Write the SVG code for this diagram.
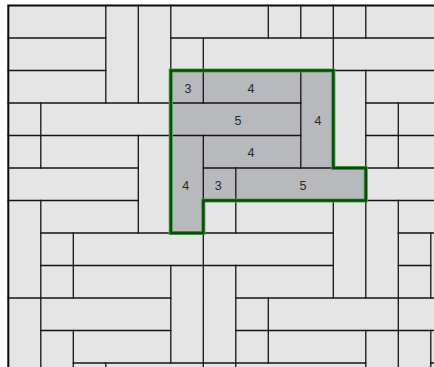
<svg xmlns="http://www.w3.org/2000/svg" width="434" height="367" viewBox="0 0 434 367">
<style>
.grid{fill:none;stroke:#141414;stroke-width:1.3;stroke-linecap:square}
.border{fill:none;stroke:#0a0a0a;stroke-width:2}
.lbl{font-family:"Liberation Sans",Arial,sans-serif;font-size:12.5px;fill:#2a2a2a;text-anchor:middle}
</style>
<rect x="0" y="0" width="434" height="367" fill="#ffffff"/>
<rect id="field" x="8.3" y="5.5" width="430" height="370" fill="#e5e5e5"/>
<path id="region" d="M170.8 70.5 H333.3 V168 H365.8 V200.5 H203.3 V233 H170.8 Z" fill="#b8b9bc"/>
<g id="tile-lines" class="grid">
<path d="M8.3 38 H105.8 M170.8 38 H440
M8.3 70.5 H105.8 M170.8 70.5 H440
M8.3 103 H300.8 M365.8 103 H440
M8.3 135.5 H300.8 M365.8 135.5 H440
M8.3 168 H138.3 M203.3 168 H440
M8.3 200.5 H138.3 M203.3 200.5 H440
M40.8 233 H333.3 M398.3 233 H440
M40.8 265.5 H333.3 M398.3 265.5 H430.8
M8.3 298 H170.8 M235.8 298 H440
M40.8 330.5 H170.8 M235.8 330.5 H440
M73.3 363 H365.8 M430.8 363 H440"/>
<path d="M40.8 103 V168 M40.8 200.5 V370
M73.3 233 V298 M73.3 330.5 V370
M105.8 5.5 V103 M105.8 363 V370
M138.3 5.5 V103 M138.3 135.5 V233
M170.8 5.5 V70.5 M170.8 265.5 V363
M203.3 38 V103 M203.3 135.5 V370
M235.8 168 V233 M235.8 265.5 V370
M268.3 5.5 V38 M268.3 298 V363
M300.8 5.5 V38 M300.8 70.5 V168
M333.3 5.5 V70.5 M333.3 200.5 V298
M365.8 5.5 V38 M365.8 70.5 V298 M365.8 330.5 V370
M398.3 103 V168 M398.3 200.5 V370
M430.8 233 V298 M430.8 330.5 V370"/>
</g>
<path id="frame" class="border" d="M8.3 370 V5.5 H440"/>
<g id="outline">
<path d="M170.8 70.5 H333.3 V168 H365.8 V200.5 H203.3 V233 H170.8 Z" fill="none" stroke="#4fa34f" stroke-width="4.2" stroke-linejoin="miter"/>
<path d="M170.8 70.5 H333.3 V168 H365.8 V200.5 H203.3 V233 H170.8 Z" fill="none" stroke="#0b4a0b" stroke-width="2.4" stroke-linejoin="miter"/>
</g>
<g id="labels" class="lbl">
<text x="188" y="92.6">3</text>
<text x="251" y="92.6">4</text>
<text x="238" y="125.3">5</text>
<text x="318" y="125.3">4</text>
<text x="251" y="157">4</text>
<text x="185.7" y="190">4</text>
<text x="218.3" y="190">3</text>
<text x="303" y="190">5</text>
</g>
</svg>
